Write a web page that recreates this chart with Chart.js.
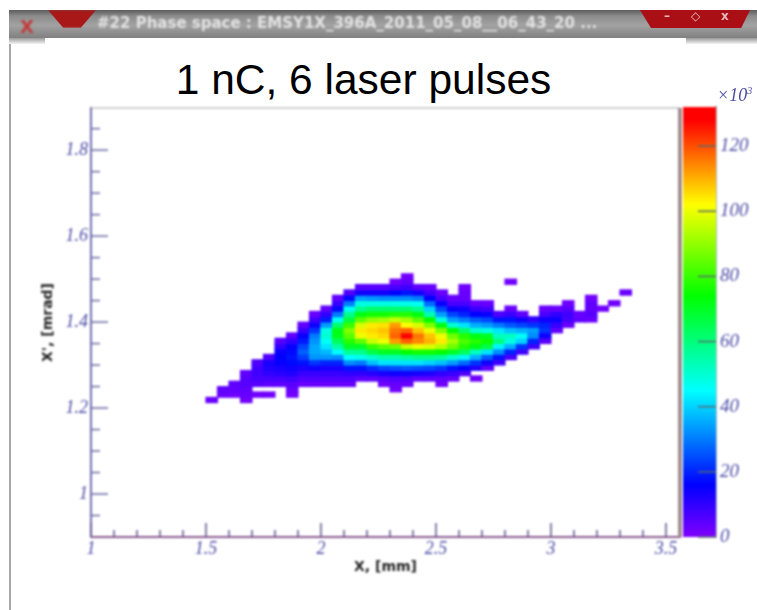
<!DOCTYPE html>
<html>
<head>
<meta charset="utf-8">
<title>1 nC, 6 laser pulses</title>
<script src="https://cdn.jsdelivr.net/npm/chart.js@4/dist/chart.umd.min.js"></script>
<style>
    html, body { margin: 0; padding: 0; background: #fff; overflow: hidden; }
    #page { position: relative; width: 757px; height: 610px; overflow: hidden; }
    #page > * { position: absolute; }
    #frameLeft { left: 9px; top: 38px; width: 2px; height: 572px; background: #a8a8a8; }
    #winBar { left: 9px; top: 10px; width: 748px; height: 28px; background: linear-gradient(#5c5c5c 0, #8c8c8c 22%, #a2a2a2 55%, #808080 100%); }
    #winStrip { left: 9px; top: 38px; width: 748px; height: 6px; background: linear-gradient(#9a9a9a, #f4f4f4); }
    #titleBox { left: 45px; top: 38px; width: 641px; height: 71px; background: #fff; }
    #winText { left: 97px; top: 14px; font: bold 15px "DejaVu Sans"; color: #e2e2e2; white-space: pre; filter: blur(0.9px); }
    #winClose { left: 20px; top: 16px; font: bold 18px "DejaVu Sans"; color: #c23a3a; filter: blur(0.8px); }
    #menuBtn { left: 48px; top: 10px; width: 48px; height: 18px; background: #a81818; clip-path: polygon(0 0, 100% 0, 68% 100%, 32% 100%); filter: blur(0.8px); }
    #ctrlBtn { left: 640px; top: 10px; width: 110px; height: 18px; background: #a90f14; clip-path: polygon(0 0, 100% 0, 92% 100%, 10% 100%); filter: blur(0.6px); }
    #ctrlText { left: 664px; top: 9px; font: bold 12px "DejaVu Sans"; color: #e8b8b8; white-space: pre; filter: blur(0.6px); }
    #plotTitle { left: 45px; top: 56px; width: 637px; text-align: center; font: 42.5px "Liberation Sans"; color: #000; }
    #colorUnit { left: 717px; top: 85px; font: italic 18px "Liberation Serif"; color: #4c4ca6; filter: blur(0.6px); }
    #colorUnit sup { font-size: 10px; }
    canvas { filter: blur(0.8px); }
    #phaseCanvas { left: 0; top: 0; }
    #scaleCanvas { left: 682px; top: 0; }
</style>
</head>
<body>
<div id="page">
    <div id="frameLeft"></div>
    <div id="winBar"></div>
    <div id="winStrip"></div>
    <div id="titleBox"></div>
    <div id="winClose">X</div>
    <div id="menuBtn"></div>
    <div id="winText">#22 Phase space : EMSY1X_396A_2011_05_08__06_43_20 ...</div>
    <div id="ctrlBtn"></div>
    <div id="ctrlText">–     ◇     x</div>
    <div id="plotTitle">1 nC, 6 laser pulses</div>
    <canvas id="phaseCanvas" width="682" height="610"></canvas>
    <canvas id="scaleCanvas" width="75" height="610"></canvas>
    <div id="colorUnit">×10<sup>3</sup></div>
</div>
<script>
// --- Dati ---
const xLabel = 'X, [mm]';
const yLabel = "X', [mrad]";

const xTicks = [1, 1.1, 1.2, 1.3, 1.4, 1.5, 1.6, 1.7, 1.8, 1.9, 2, 2.1, 2.2, 2.3, 2.4, 2.5, 2.6, 2.7, 2.8, 2.9, 3, 3.1, 3.2, 3.3, 3.4, 3.5];
const xLabelled = [1, 1.5, 2, 2.5, 3, 3.5];
const yTicks = [0.95, 1, 1.05, 1.1, 1.15, 1.2, 1.25, 1.3, 1.35, 1.4, 1.45, 1.5, 1.55, 1.6, 1.65, 1.7, 1.75, 1.8, 1.85];
const yLabelled = [1, 1.2, 1.4, 1.6, 1.8];
const scaleTicks = [0, 20, 40, 60, 80, 100, 120];

// palette: valore (x10^3) -> colore
const paletteValues = [0, 16, 45, 74, 102, 128, 132];
const paletteColors = ['#8000ff', '#0000ff', '#00ffff', '#00ff00', '#ffff00', '#ff0000', '#ff0000'];

// istogramma: primo bin Y di ogni colonna X, poi i conteggi dal basso verso l'alto
const firstBin = [25, 26, 26, 25, 26, 26, 28, 26, 28, 28, 28, 28, 28, 29, 29, 28, 27, 28, 29, 29, 28, 29, 30, 29, 31, 32, 33, 34, 35, 36, 38, 39, 40, 40, 42, 43, 45];
const counts = [
    [3],
    [3, 4],
    [2, 4, 4],
    [2, 3, 4, 5, 5, 4],
    [2, 0, 5, 7, 8, 8, 6],
    [2, 0, 4, 7, 10, 12, 13, 6],
    [4, 7, 11, 13, 15, 16, 15, 10, 5],
    [2, 3, 5, 8, 12, 14, 17, 18, 17, 15, 10, 4],
    [3, 6, 9, 13, 18, 23, 27, 24, 19, 15, 9, 4],
    [3, 6, 9, 14, 22, 33, 35, 35, 33, 30, 22, 14, 8, 3],
    [3, 6, 9, 13, 20, 33, 37, 42, 46, 50, 48, 34, 19, 10, 4],
    [3, 6, 9, 13, 20, 32, 45, 55, 64, 71, 72, 62, 46, 30, 17, 9, 4],
    [3, 6, 10, 18, 32, 45, 57, 70, 78, 84, 88, 80, 67, 58, 46, 30, 17, 6],
    [4, 10, 18, 30, 47, 58, 70, 84, 100, 104, 98, 84, 72, 58, 48, 34, 14, 5],
    [4, 11, 21, 38, 50, 66, 80, 96, 104, 106, 104, 90, 76, 62, 48, 33, 14, 5],
    [2, 5, 13, 24, 42, 54, 70, 84, 100, 106, 108, 105, 92, 76, 62, 48, 32, 14, 5],
    [2, 3, 6, 14, 25, 42, 54, 70, 86, 112, 118, 116, 112, 96, 78, 62, 48, 32, 16, 7, 2],
    [3, 6, 14, 26, 42, 56, 74, 96, 118, 130, 118, 102, 92, 78, 62, 47, 32, 18, 8, 4, 2],
    [4, 13, 25, 42, 58, 76, 100, 114, 116, 108, 98, 84, 72, 58, 46, 30, 14, 4],
    [4, 12, 24, 40, 58, 76, 98, 110, 108, 100, 88, 74, 54, 40, 28, 16, 8, 3],
    [2, 4, 10, 22, 38, 56, 74, 94, 104, 100, 88, 72, 48, 34, 24, 15, 7, 3],
    [3, 9, 18, 34, 50, 70, 86, 92, 86, 74, 50, 34, 24, 15, 7, 3],
    [6, 16, 28, 44, 64, 78, 82, 78, 62, 42, 30, 20, 14, 7, 3, 3, 2],
    [2, 0, 12, 22, 36, 52, 72, 78, 72, 50, 36, 26, 16, 9, 3],
    [4, 14, 26, 42, 66, 75, 70, 48, 34, 24, 15, 8, 3],
    [8, 18, 32, 44, 60, 52, 42, 30, 18, 6],
    [7, 20, 36, 48, 52, 38, 26, 18, 9, 3, 0, 0, 0, 0, 2],
    [8, 22, 40, 46, 36, 24, 14, 4],
    [8, 20, 32, 34, 22, 10],
    [5, 14, 22, 20, 14, 7, 3],
    [4, 9, 14, 10, 3],
    [3, 7, 8, 5, 2],
    [4, 3],
    [3, 5, 4, 4, 2],
    [2],
    [2],
    [3]
];

// binning dell'istogramma
const xBinStart = 1.5, xBinWidth = 0.05;
const yBinStart = 0.9, yBinHeight = 0.0125;

const tickFont = { family: 'Liberation Serif', style: 'italic', size: 18 };
const tickColor = '#4c4ca6';
const titleFont = { family: 'DejaVu Sans', weight: 'bold', size: 14 };

function hexToRgb(hex) {
    return [1, 3, 5].map(p => parseInt(hex.substr(p, 2), 16));
}

function colorFor(value) {
    let i = 0;
    while (i < paletteValues.length - 2 && value > paletteValues[i + 1]) i++;
    const t = Math.min(1, (value - paletteValues[i]) / (paletteValues[i + 1] - paletteValues[i]));
    const a = hexToRgb(paletteColors[i]);
    const b = hexToRgb(paletteColors[i + 1]);
    const c = a.map((v, n) => Math.round(v + (b[n] - v) * t));
    return `rgb(${c[0]},${c[1]},${c[2]})`;
}

// --- Celle come barre flottanti ---
const cells = [];
const cellColors = [];
counts.forEach((column, i) => {
    column.forEach((value, j) => {
        if (value === 0) return;
        const bin = firstBin[i] + j;
        const low = yBinStart + yBinHeight * bin;
        cells.push({ x: xBinStart + xBinWidth * (i + 0.5), y: [low - 0.0004, low + yBinHeight + 0.0004] });
        cellColors.push(colorFor(value));
    });
});

// tacche rivolte verso l'interno, come nel grafico originale
function drawInnerTicks(ctx, chart, scale, labelled, major, minor, color) {
    const area = chart.chartArea;
    ctx.strokeStyle = color;
    ctx.lineWidth = 1.5;
    scale.ticks.forEach(tick => {
        const len = labelled.includes(tick.value) ? major : minor;
        const p = scale.getPixelForValue(tick.value);
        ctx.beginPath();
        if (scale.isHorizontal()) {
            ctx.moveTo(p, area.bottom);
            ctx.lineTo(p, area.bottom - len);
        } else if (scale.position === 'left') {
            ctx.moveTo(area.left, p);
            ctx.lineTo(area.left + len, p);
        } else {
            ctx.moveTo(area.right, p);
            ctx.lineTo(area.right - len, p);
        }
        ctx.stroke();
    });
}

const phaseTicks = {
    id: 'phaseTicks',
    afterDatasetsDraw(chart) {
        const { ctx, chartArea: area, scales } = chart;
        ctx.save();
        drawInnerTicks(ctx, chart, scales.x, xLabelled, 14, 7, '#5e5088');
        drawInnerTicks(ctx, chart, scales.y, yLabelled, 17, 9, '#6a6aa4');
        ctx.strokeStyle = '#a0a0a8';
        ctx.lineWidth = 1;
        ctx.beginPath();
        ctx.moveTo(area.left, area.top);
        ctx.lineTo(area.right, area.top);
        ctx.stroke();
        ctx.strokeStyle = '#a08c8c';
        ctx.lineWidth = 4;
        ctx.beginPath();
        ctx.moveTo(area.right, area.top);
        ctx.lineTo(area.right, area.bottom);
        ctx.stroke();
        ctx.restore();
    }
};

const scaleBarTicks = {
    id: 'scaleBarTicks',
    afterDatasetsDraw(chart) {
        const { ctx, scales } = chart;
        ctx.save();
        drawInnerTicks(ctx, chart, scales.y, scaleTicks, 18, 18, '#5a6a70');
        ctx.restore();
    }
};

// --- Grafico principale ---
new Chart(document.getElementById('phaseCanvas'), {
    type: 'bar',
    data: {
        datasets: [{
            data: cells,
            backgroundColor: cellColors,
            barThickness: 12,
            borderWidth: 0
        }]
    },
    options: {
        responsive: false,
        animation: false,
        events: [],
        layout: { padding: { top: 108, right: 2, left: 0, bottom: 0 } },
        plugins: { legend: { display: false }, tooltip: { enabled: false }, title: { display: false } },
        scales: {
            x: {
                type: 'linear',
                offset: false,
                min: 1,
                max: 3.561,
                afterBuildTicks: scale => { scale.ticks = xTicks.map(v => ({ value: v })); },
                afterFit: scale => { scale.height = 73; },
                grid: { display: false, offset: false, drawTicks: false, tickLength: 0 },
                border: { display: true, color: '#8a5a90', width: 2 },
                ticks: {
                    autoSkip: false,
                    maxRotation: 0,
                    padding: 1,
                    color: tickColor,
                    font: tickFont,
                    callback: v => xLabelled.includes(v) ? String(v) : ''
                },
                title: { display: true, text: xLabel, color: '#222', font: titleFont, padding: { top: 34, bottom: 34 } }
            },
            y: {
                type: 'linear',
                min: 0.9,
                max: 1.898,
                afterBuildTicks: scale => { scale.ticks = yTicks.map(v => ({ value: v })); },
                afterFit: scale => { scale.width = 91; },
                grid: { display: false, drawTicks: false, tickLength: 0 },
                border: { display: true, color: '#7070b0', width: 2 },
                ticks: {
                    autoSkip: false,
                    padding: 3,
                    color: tickColor,
                    font: tickFont,
                    callback: v => yLabelled.includes(v) ? String(v) : ''
                },
                title: { display: true, text: yLabel, color: '#222', font: titleFont, padding: { top: 40, bottom: 40 } }
            }
        }
    },
    plugins: [phaseTicks]
});

// --- Barra dei colori ---
new Chart(document.getElementById('scaleCanvas'), {
    type: 'bar',
    data: {
        labels: ['scale'],
        datasets: [{
            data: [[paletteValues[0], paletteValues[paletteValues.length - 1]]],
            barPercentage: 1,
            categoryPercentage: 1,
            borderWidth: 0,
            backgroundColor: ctx => {
                const area = ctx.chart.chartArea;
                if (!area) return paletteColors[0];
                const top = paletteValues[paletteValues.length - 1];
                const g = ctx.chart.ctx.createLinearGradient(0, area.bottom, 0, area.top);
                paletteValues.forEach((v, i) => g.addColorStop(v / top, paletteColors[i]));
                return g;
            }
        }]
    },
    options: {
        responsive: false,
        animation: false,
        events: [],
        layout: { padding: { top: 107, bottom: 73, left: 1, right: 0 } },
        plugins: { legend: { display: false }, tooltip: { enabled: false } },
        scales: {
            x: { display: false },
            y: {
                position: 'right',
                min: 0,
                max: 132,
                afterBuildTicks: scale => { scale.ticks = scaleTicks.map(v => ({ value: v })); },
                afterFit: scale => { scale.width = 41; },
                grid: { display: false, drawTicks: false, tickLength: 0 },
                border: { display: true, color: '#5a8088', width: 1.5 },
                ticks: { autoSkip: false, padding: 4, color: tickColor, font: { family: 'Liberation Serif', style: 'italic', size: 19 } }
            }
        }
    },
    plugins: [scaleBarTicks]
});
</script>
</body>
</html>
